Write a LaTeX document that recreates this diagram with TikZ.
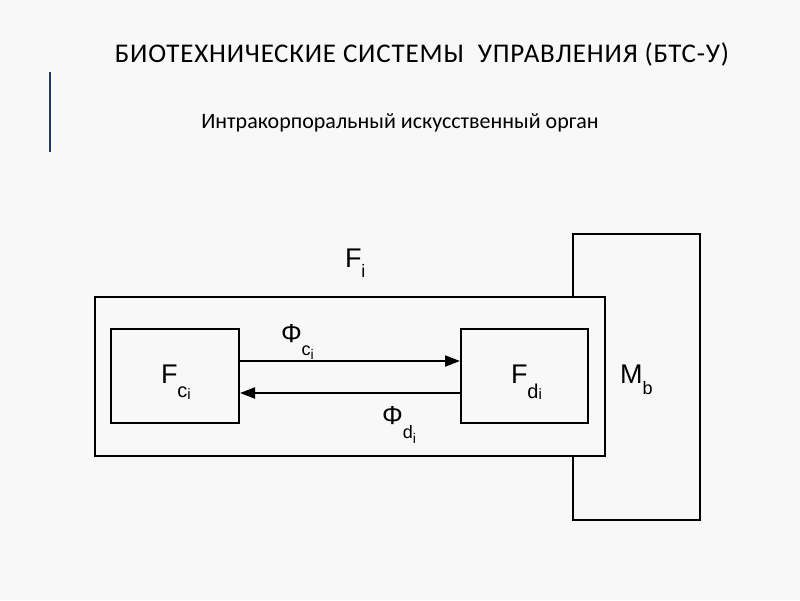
\documentclass[tikz,border=0pt]{standalone}
\usepackage{fontspec}
\setmainfont{Liberation Sans}
\newfontfamily\calib{Carlito}
\newfontfamily\calibsp[LetterSpace=3]{Carlito}
\usetikzlibrary{arrows.meta}
\definecolor{bgc}{HTML}{F8F8F8}
\definecolor{navy}{HTML}{1F3864}
\newcommand{\fsz}[1]{\fontsize{#1}{#1}\selectfont}
\begin{document}
\begin{tikzpicture}[x=1pt,y=-1pt,
  boxline/.style={draw=black,line width=2pt,fill=bgc},
  lbl/.style={anchor=base west,inner sep=0pt,outer sep=0pt},
  flow/.style={line width=2pt,-{Triangle[length=15pt,width=11pt]}}]
\fill[bgc] (0,0) rectangle (800,600);
\useasboundingbox (0,0) rectangle (800,600);
% title
\node[anchor=base,inner sep=0pt] (title) at (422,62) {\calibsp\fsz{27}БИОТЕХНИЧЕСКИЕ СИСТЕМЫ\ \ УПРАВЛЕНИЯ (БТС-У)};
\draw[navy,line width=2pt] (50,72) coordinate (vt) -- (50,152) coordinate (vb);
\node[anchor=base,inner sep=0pt] (sub) at (400,128) {\calib\fsz{22}Интракорпоральный искусственный орган};
% boxes
\draw[boxline] (573,234) rectangle (700,520);
\coordinate (mbc) at (636,377);
\draw[boxline] (95,297) rectangle (605,456);
\node[boxline,minimum width=128pt,minimum height=94pt,inner sep=0pt] (fc) at (175,376) {};
\node[boxline,minimum width=127pt,minimum height=94pt,inner sep=0pt] (fd) at (524.5,376) {};
% arrows
\draw[flow] (fc.east |- 0,361) -- (fd.west |- 0,361);
\draw[flow] (fd.west |- 0,393) -- (fc.east |- 0,393);
% labels
\node[lbl] (fi) at (345,267) {\fsz{27}F\raisebox{-10pt}{\fsz{18}i}};
\node[lbl] (fcl) at (161,383) {\fsz{27}F\raisebox{-14pt}{\fsz{20}c\raisebox{-2pt}{\fsz{15}i}}};
\node[lbl] (fdl) at (511,383) {\fsz{27}F\raisebox{-15pt}{\fsz{20}d\raisebox{-1pt}{\fsz{15}i}}};
\node[lbl] (mbl) at (620,383) {\fsz{27}M\raisebox{-11pt}{\fsz{18}b}};
\node[lbl] (phic) at (281,342) {\fsz{26}Φ\raisebox{-13pt}{\fsz{18}c\raisebox{-4pt}{\fsz{14}i}}};
\node[lbl] (phid) at (382,424) {\fsz{26}Φ\raisebox{-14pt}{\fsz{18}d\raisebox{-5pt}{\fsz{14}i}}};
\end{tikzpicture}
\end{document}
